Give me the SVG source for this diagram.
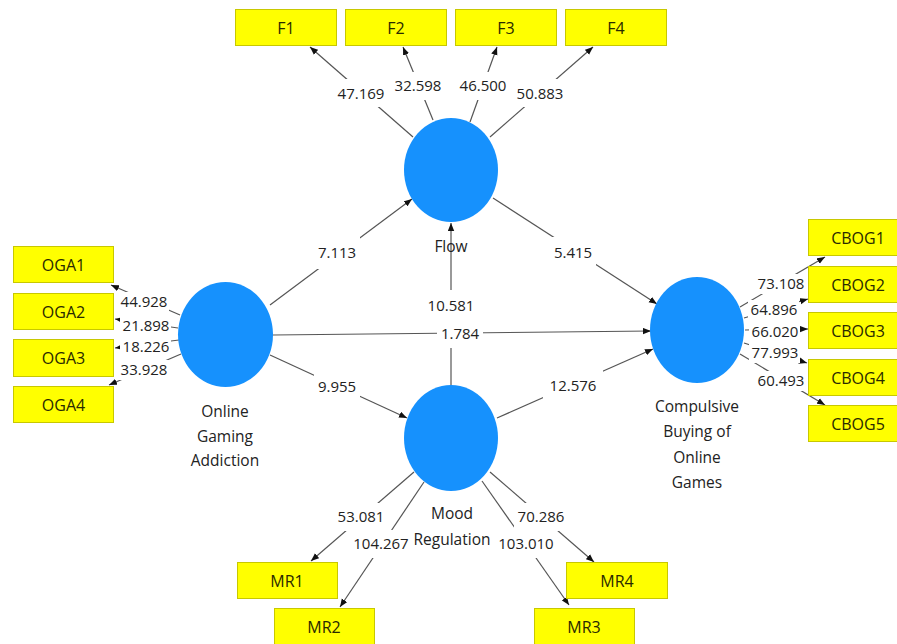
<svg xmlns="http://www.w3.org/2000/svg" width="897" height="644" viewBox="0 0 897 644">
<defs>
<marker id="arr" viewBox="0 0 10 8" markerWidth="8" markerHeight="7" refX="10" refY="4" orient="auto" markerUnits="userSpaceOnUse">
<path d="M0,0 L10,4 L0,8 z" fill="#111"/>
</marker>
<style>
.ln{stroke:#555;stroke-width:1.2;fill:none;marker-end:url(#arr)}
.bg{fill:#fff}
.lb{font-family:"Open Sans","Liberation Sans",sans-serif;font-size:15px;fill:#222;text-anchor:middle}
.nl{font-family:"Open Sans","Liberation Sans",sans-serif;font-size:15.5px;fill:#222;text-anchor:middle}
.bx{fill:#ffff00;stroke:#c8c800;stroke-width:1}
.bt{font-family:"Open Sans","Liberation Sans",sans-serif;font-size:16px;fill:#2a2a00;text-anchor:middle}
.lv{fill:#1691fd}
</style>
</defs>
<rect width="897" height="644" fill="#fff"/>
<g id="connectors">
<g id="lines">
<line class="ln" x1="413" y1="137" x2="310" y2="47"/>
<line class="ln" x1="433" y1="120" x2="403" y2="47"/>
<line class="ln" x1="470" y1="122" x2="497" y2="47"/>
<line class="ln" x1="490" y1="137" x2="593" y2="47"/>
<line class="ln" x1="180" y1="315" x2="111" y2="285"/>
<line class="ln" x1="178" y1="328" x2="115" y2="319"/>
<line class="ln" x1="179" y1="340" x2="115" y2="348"/>
<line class="ln" x1="181" y1="354" x2="109" y2="385"/>
<line class="ln" x1="740" y1="307" x2="825" y2="257"/>
<line class="ln" x1="744" y1="318" x2="808" y2="299"/>
<line class="ln" x1="745" y1="330" x2="808" y2="329"/>
<line class="ln" x1="744" y1="343" x2="807" y2="363"/>
<line class="ln" x1="740" y1="354" x2="825" y2="405"/>
<line class="ln" x1="414" y1="472" x2="311" y2="561"/>
<line class="ln" x1="424" y1="482" x2="340" y2="607"/>
<line class="ln" x1="482" y1="481" x2="569" y2="605"/>
<line class="ln" x1="490" y1="472" x2="594" y2="562"/>
<line class="ln" x1="270" y1="305" x2="412" y2="199"/>
<line class="ln" x1="493" y1="198" x2="657" y2="304"/>
<line class="ln" x1="451" y1="385" x2="451" y2="223"/>
<line class="ln" x1="273" y1="335" x2="651" y2="331"/>
<line class="ln" x1="270" y1="355" x2="407" y2="418"/>
<line class="ln" x1="497" y1="418" x2="653" y2="349"/>
</g>
<g id="label-bg">
<rect class="bg" x="334" y="79" width="54" height="28"/>
<rect class="bg" x="391" y="72" width="54" height="28"/>
<rect class="bg" x="456" y="72" width="54" height="28"/>
<rect class="bg" x="513" y="79" width="54" height="28"/>
<rect class="bg" x="118" y="292" width="51" height="20"/>
<rect class="bg" x="120" y="316" width="51" height="20"/>
<rect class="bg" x="120" y="337" width="51" height="20"/>
<rect class="bg" x="118" y="360" width="51" height="20"/>
<rect class="bg" x="756" y="274" width="51" height="20"/>
<rect class="bg" x="748" y="300" width="51" height="20"/>
<rect class="bg" x="749" y="322" width="51" height="20"/>
<rect class="bg" x="749" y="343" width="51" height="20"/>
<rect class="bg" x="756" y="371" width="51" height="20"/>
<rect class="bg" x="334" y="503" width="54" height="28"/>
<rect class="bg" x="350" y="530" width="62" height="28"/>
<rect class="bg" x="495" y="530" width="62" height="28"/>
<rect class="bg" x="514" y="503" width="54" height="28"/>
<rect class="bg" x="314" y="237" width="46" height="32"/>
<rect class="bg" x="550" y="237" width="46" height="32"/>
<rect class="bg" x="424" y="290" width="54" height="30"/>
<rect class="bg" x="437" y="320" width="46" height="28"/>
<rect class="bg" x="314" y="371" width="46" height="32"/>
<rect class="bg" x="543" y="370" width="60" height="32"/>
</g>
<g id="labels">
<text class="lb" x="361" y="99">47.169</text>
<text class="lb" x="418" y="91">32.598</text>
<text class="lb" x="483" y="91">46.500</text>
<text class="lb" x="540" y="99">50.883</text>
<text class="lb" x="144" y="307">44.928</text>
<text class="lb" x="146" y="331">21.898</text>
<text class="lb" x="146" y="352">18.226</text>
<text class="lb" x="144" y="375">33.928</text>
<text class="lb" x="781" y="289">73.108</text>
<text class="lb" x="774" y="315">64.896</text>
<text class="lb" x="775" y="337">66.020</text>
<text class="lb" x="775" y="358">77.993</text>
<text class="lb" x="781" y="386">60.493</text>
<text class="lb" x="361" y="522">53.081</text>
<text class="lb" x="381" y="549">104.267</text>
<text class="lb" x="526" y="549">103.010</text>
<text class="lb" x="541" y="522">70.286</text>
<text class="lb" x="337" y="258">7.113</text>
<text class="lb" x="573" y="258">5.415</text>
<text class="lb" x="451" y="311">10.581</text>
<text class="lb" x="460" y="339">1.784</text>
<text class="lb" x="337" y="392">9.955</text>
<text class="lb" x="573" y="391">12.576</text>
</g>
</g>
<g id="flow">
<ellipse class="lv" cx="451" cy="170" rx="47" ry="52"/>
<text class="nl" x="451" y="252">Flow</text>
</g>
<g id="oga">
<ellipse class="lv" cx="225.5" cy="334.5" rx="47.5" ry="52.5"/>
<text class="nl" x="225" y="417">Online</text>
<text class="nl" x="225" y="442">Gaming</text>
<text class="nl" x="225" y="466">Addiction</text>
</g>
<g id="mr">
<ellipse class="lv" cx="451" cy="438" rx="47" ry="53"/>
<text class="nl" x="452" y="519">Mood</text>
<text class="nl" x="452" y="545">Regulation</text>
</g>
<g id="cbog">
<ellipse class="lv" cx="697" cy="330" rx="47" ry="53"/>
<text class="nl" x="697" y="412">Compulsive</text>
<text class="nl" x="697" y="437">Buying of</text>
<text class="nl" x="697" y="463">Online</text>
<text class="nl" x="697" y="488">Games</text>
</g>
<g id="F1"><rect class="bx" x="235.5" y="9.5" width="101" height="36"/><text class="bt" x="286" y="33.5">F1</text></g>
<g id="F2"><rect class="bx" x="345.5" y="9.5" width="101" height="36"/><text class="bt" x="396" y="33.5">F2</text></g>
<g id="F3"><rect class="bx" x="455.5" y="9.5" width="101" height="36"/><text class="bt" x="506" y="33.5">F3</text></g>
<g id="F4"><rect class="bx" x="565.5" y="9.5" width="101" height="36"/><text class="bt" x="616" y="33.5">F4</text></g>
<g id="OGA1"><rect class="bx" x="13.5" y="246.5" width="100" height="36"/><text class="bt" x="63.5" y="270.5">OGA1</text></g>
<g id="OGA2"><rect class="bx" x="13.5" y="293.5" width="100" height="36"/><text class="bt" x="63.5" y="317.5">OGA2</text></g>
<g id="OGA3"><rect class="bx" x="13.5" y="339.5" width="100" height="37"/><text class="bt" x="63.5" y="363.5">OGA3</text></g>
<g id="OGA4"><rect class="bx" x="13.5" y="386.5" width="100" height="36"/><text class="bt" x="63.5" y="410.5">OGA4</text></g>
<g id="CBOG1"><rect class="bx" x="808.5" y="219.5" width="101" height="36"/><text class="bt" x="858" y="243.5">CBOG1</text></g>
<g id="CBOG2"><rect class="bx" x="808.5" y="266.5" width="101" height="36"/><text class="bt" x="858" y="290.5">CBOG2</text></g>
<g id="CBOG3"><rect class="bx" x="808.5" y="312.5" width="101" height="36"/><text class="bt" x="858" y="336.5">CBOG3</text></g>
<g id="CBOG4"><rect class="bx" x="808.5" y="359.5" width="101" height="36"/><text class="bt" x="858" y="383.5">CBOG4</text></g>
<g id="CBOG5"><rect class="bx" x="808.5" y="405.5" width="101" height="36"/><text class="bt" x="858" y="429.5">CBOG5</text></g>
<g id="MR1"><rect class="bx" x="237.5" y="562.5" width="100" height="36"/><text class="bt" x="287" y="586.5">MR1</text></g>
<g id="MR2"><rect class="bx" x="274.5" y="608.5" width="100" height="37"/><text class="bt" x="324" y="632.5">MR2</text></g>
<g id="MR3"><rect class="bx" x="534.5" y="608.5" width="100" height="37"/><text class="bt" x="584" y="632.5">MR3</text></g>
<g id="MR4"><rect class="bx" x="566.5" y="562.5" width="101" height="36"/><text class="bt" x="617" y="586.5">MR4</text></g>
</svg>
